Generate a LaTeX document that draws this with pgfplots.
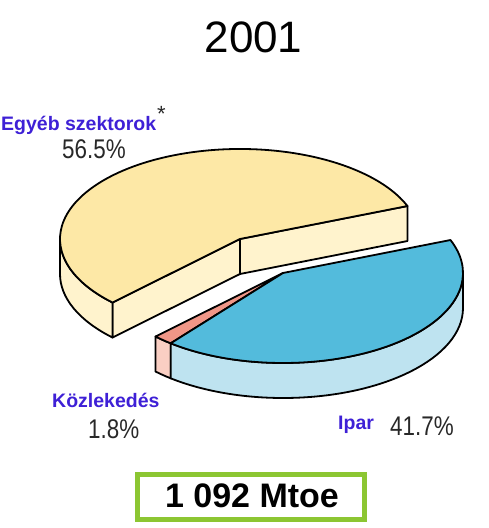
\documentclass[border=0pt]{standalone}
\usepackage{pgfplots}
\pgfplotsset{compat=1.18}
\usepackage{fontspec}
\setmainfont{Liberation Sans}
\newfontfamily\narrow[FakeStretch=0.83]{Liberation Sans}
\definecolor{ytop}{RGB}{253,232,166}
\definecolor{yside}{RGB}{255,243,205}
\definecolor{btop}{RGB}{83,187,220}
\definecolor{bside}{RGB}{190,227,240}
\definecolor{ptop}{RGB}{240,150,135}
\definecolor{pside}{RGB}{250,207,195}
\definecolor{lblue}{RGB}{62,32,214}
\definecolor{boxgreen}{RGB}{140,198,50}
\definecolor{numgray}{RGB}{40,40,40}
% shares (percent)
\def\egyeb{56.5}
\def\kozl{1.8}
\def\ipar{41.7}
\def\startang{21.5}
\def\ycx{240}\def\ycy{289}
\def\bcx{283}\def\bcy{255}
\begin{document}
\begin{tikzpicture}
\pgfmathsetmacro\ya{\startang}
\pgfmathsetmacro\yb{\startang+3.6*\egyeb}
\pgfmathsetmacro\pb{\yb+3.6*\kozl}
\pgfmathsetmacro\bb{\pb+3.6*\ipar}
\begin{axis}[hide axis, scale only axis, width=489pt, height=528pt,
  xmin=0, xmax=489, ymin=0, ymax=528, clip=false]
\path (rel axis cs:0,0) rectangle (rel axis cs:1,1);
\tikzset{sl/.style={draw=black, line width=1.8pt, line join=round}}
% ---- Egyeb szektorok (exploded) ----
\filldraw[sl, fill=yside] (axis cs:\ycx,\ycy) -- ++(\ya:180pt and 90pt) -- ++(0,-35pt) -- (axis cs:\ycx,\ycy-35) -- cycle;
\filldraw[sl, fill=yside] (axis cs:\ycx,\ycy) -- ++(\yb:180pt and 90pt) -- ++(0,-35pt) -- (axis cs:\ycx,\ycy-35) -- cycle;
\filldraw[sl, fill=yside] (axis cs:\ycx,\ycy) ++(180:180pt and 90pt) arc[start angle=180, end angle=\yb, x radius=180pt, y radius=90pt] -- ++(0,-35pt) arc[start angle=\yb, end angle=180, x radius=180pt, y radius=90pt] -- cycle;
\filldraw[sl, fill=ytop] (axis cs:\ycx,\ycy) -- ++(\ya:180pt and 90pt) arc[start angle=\ya, end angle=\yb, x radius=180pt, y radius=90pt] -- cycle;
% ---- Kozlekedes + Ipar ----
\filldraw[sl, fill=pside] (axis cs:\bcx,\bcy) ++(\yb:180pt and 90pt) arc[start angle=\yb, end angle=\pb, x radius=180pt, y radius=90pt] -- ++(0,-35pt) arc[start angle=\pb, end angle=\yb, x radius=180pt, y radius=90pt] -- cycle;
\filldraw[sl, fill=bside] (axis cs:\bcx,\bcy) ++(\pb:180pt and 90pt) arc[start angle=\pb, end angle=360, x radius=180pt, y radius=90pt] -- ++(0,-35pt) arc[start angle=360, end angle=\pb, x radius=180pt, y radius=90pt] -- cycle;
\filldraw[sl, fill=ptop] (axis cs:\bcx,\bcy) -- ++(\yb:180pt and 90pt) arc[start angle=\yb, end angle=\pb, x radius=180pt, y radius=90pt] -- cycle;
\filldraw[sl, fill=btop] (axis cs:\bcx,\bcy) -- ++(\pb:180pt and 90pt) arc[start angle=\pb, end angle=\bb, x radius=180pt, y radius=90pt] -- cycle;
% ---- texts ----
\node[anchor=base, inner sep=0] at (axis cs:253.5,475) {\fontsize{44}{48}\selectfont 2001};
\node[anchor=base west, inner sep=0, text=lblue] at (axis cs:1,397) {\fontsize{19.5}{22}\selectfont\bfseries Egyéb szektorok};
\node[anchor=base west, inner sep=0, text=numgray] at (axis cs:157,406) {\fontsize{22}{24}\selectfont *};
\node[anchor=base west, inner sep=0, text=numgray] at (axis cs:62,369) {\narrow\fontsize{27}{30}\selectfont 56.5\%};
\node[anchor=base west, inner sep=0, text=lblue] at (axis cs:52,120) {\fontsize{19.5}{22}\selectfont\bfseries Közlekedés};
\node[anchor=base west, inner sep=0, text=numgray] at (axis cs:88,89) {\narrow\fontsize{27}{30}\selectfont 1.8\%};
\node[anchor=base west, inner sep=0, text=lblue] at (axis cs:338,98) {\fontsize{19.5}{22}\selectfont\bfseries Ipar};
\node[anchor=base west, inner sep=0, text=numgray] at (axis cs:390,92) {\narrow\fontsize{27}{30}\selectfont 41.7\%};
\draw[boxgreen, line width=5pt] (axis cs:137.5,8.5) rectangle (axis cs:364.5,53.5);
\node[anchor=base, inner sep=0] at (axis cs:252,20) {\fontsize{34}{36}\selectfont\bfseries 1 092 Mtoe};
\end{axis}
\end{tikzpicture}
\end{document}
